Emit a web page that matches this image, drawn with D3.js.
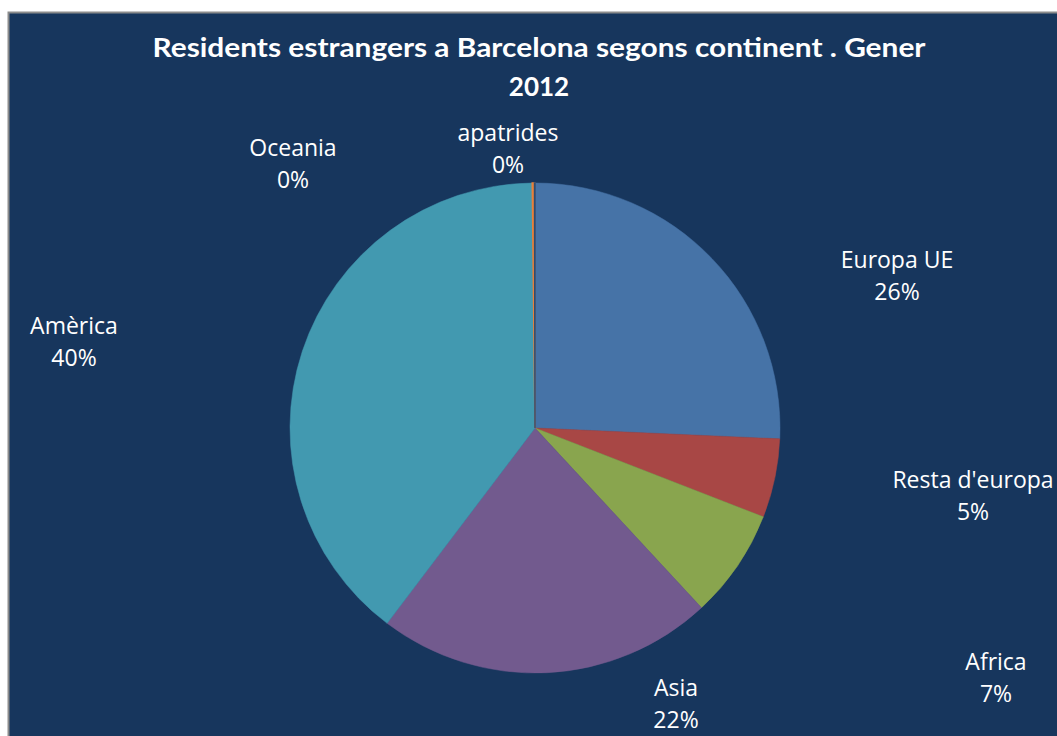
<!DOCTYPE html>
<html>
<head>
<meta charset="utf-8">
<script src="https://cdn.jsdelivr.net/npm/d3@7"></script>
<style>
  html, body { margin: 0; padding: 0; background: #fff; }
  svg { display: block; }
</style>
</head>
<body>
<div id="chart"></div>
<script>
// data (share of foreign residents, %)
var continents = ["Europa UE", "Resta d'europa", "Africa", "Asia", "Amèrica", "Oceania", "apatrides"];
var shares = [25.7, 5.2, 7.2, 22.2, 39.5, 0.15, 0.03];
var sliceColors = ["#4673A7", "#A84745", "#89A54E", "#725A8E", "#4299B0", "#E8803A", "#2C4D75"];
// label anchor points (layout, dragged by hand in the original)
var labelPos = [[897, 260], [973, 480], [996, 662], [676, 688], [74, 326], [293, 148], [508, 133]];

var width = 1057, height = 736;
var cx = 535, cy = 428, radius = 245;

var svg = d3.select('#chart')
    .append('svg')
    .attr('width', width)
    .attr('height', height);

// frame
svg.append('rect')
    .attr('x', 8.5).attr('y', 12.5)
    .attr('width', width + 10).attr('height', height + 10)
    .attr('fill', '#17365D')
    .attr('stroke', '#8c8c8c')
    .attr('stroke-width', 2);

// title
var title = svg.append('text')
    .attr('text-anchor', 'middle')
    .attr('fill', '#fff')
    .attr('font-family', 'Lato, "Open Sans", sans-serif')
    .attr('font-weight', 'bold')
    .attr('font-size', 26);
title.append('tspan').attr('x', 539).attr('y', 57)
    .attr('textLength', 773).attr('lengthAdjust', 'spacingAndGlyphs')
    .text('Residents estrangers a Barcelona segons continent . Gener');
title.append('tspan').attr('x', 539).attr('y', 96).text('2012');

var total = d3.sum(shares);
var data = continents.map(function(c, i) { return { label: c, value: shares[i], color: sliceColors[i], pos: labelPos[i] }; });

var pie = d3.pie().sort(null).value(function(d) { return d.value; });
var arc = d3.arc().innerRadius(0).outerRadius(radius);

var g = svg.append('g').attr('transform', 'translate(' + cx + ',' + cy + ')');
g.selectAll('path')
    .data(pie(data))
    .enter()
    .append('path')
    .attr('d', arc)
    .attr('fill', function(d) { return d.data.color; })
    .attr('stroke', function(d) { return d.data.color; })
    .attr('stroke-width', function(d) { return d.data.value < 1 ? 1.5 : 0.5; });

var labels = svg.selectAll('text.lbl')
    .data(data)
    .enter()
    .append('text')
    .attr('class', 'lbl')
    .attr('text-anchor', 'middle')
    .attr('fill', '#fff')
    .attr('font-family', '"Open Sans", Lato, sans-serif')
    .attr('font-size', 23);
labels.append('tspan')
    .attr('x', function(d) { return d.pos[0]; })
    .attr('y', function(d) { return d.pos[1] + 8; })
    .text(function(d) { return d.label; });
labels.append('tspan')
    .attr('x', function(d) { return d.pos[0]; })
    .attr('y', function(d) { return d.pos[1] + 40; })
    .text(function(d) { return Math.round(d.value / total * 100) + '%'; });
</script>
</body>
</html>
